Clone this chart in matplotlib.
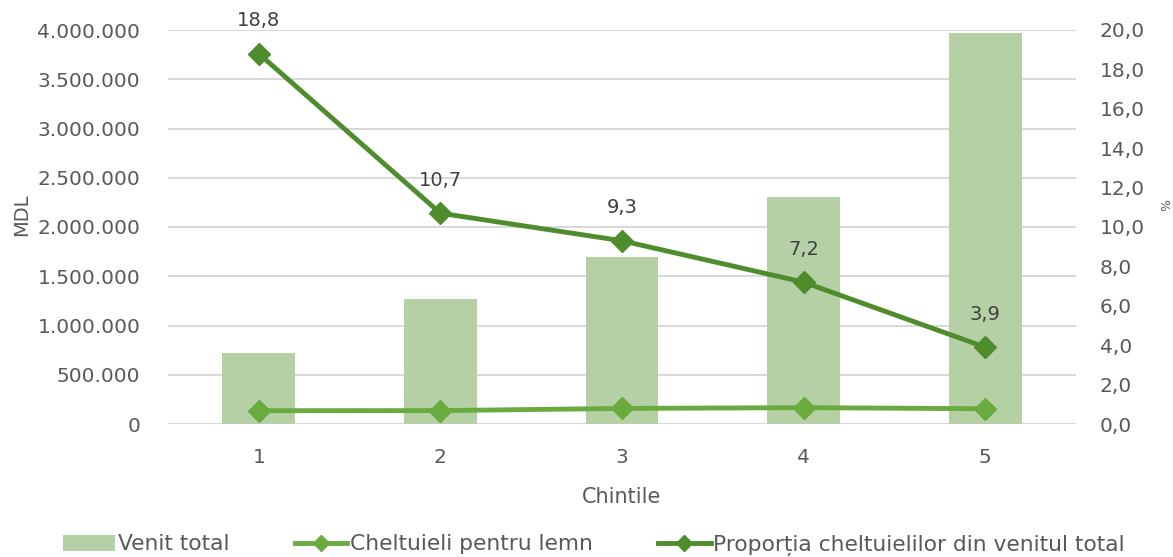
import matplotlib
matplotlib.use("Agg")
import matplotlib.pyplot as plt
from matplotlib.ticker import FuncFormatter, MultipleLocator
from matplotlib.patches import Patch
from matplotlib.lines import Line2D

# Data
quintiles = ["1", "2", "3", "4", "5"]
venit_total = [720000, 1270000, 1695000, 2305000, 3970000]
cheltuieli_lemn = [135000, 136000, 158000, 166000, 155000]
proportie = [18.8, 10.7, 9.3, 7.2, 3.9]
proportie_labels = ["18,8", "10,7", "9,3", "7,2", "3,9"]

c_bar = "#b5d0a5"
c_light = "#6aab40"
c_dark = "#4e8c2d"
c_text = "#595959"
c_grid = "#d9d9d9"

plt.rcParams["font.family"] = ["DejaVu Sans"]

fig = plt.figure(figsize=(11.73, 5.57), dpi=100)
ax = fig.add_axes([168 / 1173, 1 - 424 / 557, (1076 - 168) / 1173, (424 - 30) / 557])
ax2 = ax.twinx()

x = list(range(1, len(quintiles) + 1))

ax.bar(x, venit_total, width=0.4, color=c_bar, zorder=2)
ax.plot(x, cheltuieli_lemn, color=c_light, lw=3.5, marker="D", ms=11,
        markeredgecolor=c_light, zorder=3)

ax2.plot(x, proportie, color=c_dark, lw=3.5, marker="D", ms=11,
         markeredgecolor=c_dark, zorder=3)
for xi, v, lab in zip(x, proportie, proportie_labels):
    ax2.annotate(lab, (xi, v), xytext=(0, 17), textcoords="offset points",
                 ha="center", va="bottom", fontsize=14, color="#404040")

ax.set_xlim(0.5, 5.5)
ax.set_ylim(0, 4000000)
ax2.set_ylim(0, 20)
ax.yaxis.set_major_locator(MultipleLocator(500000))
ax2.yaxis.set_major_locator(MultipleLocator(2))


def thousands(v, pos):
    return f"{int(round(v)):,}".replace(",", ".")


ax.yaxis.set_major_formatter(FuncFormatter(thousands))
ax2.yaxis.set_major_formatter(FuncFormatter(lambda v, p: f"{v:.1f}".replace(".", ",")))

ax.set_xticks(x)
ax.set_xticklabels(quintiles, fontsize=14.5)

ax.grid(axis="y", color=c_grid, lw=1.5, zorder=0)
ax.set_axisbelow(True)

for a in (ax, ax2):
    for s in a.spines.values():
        s.set_visible(False)
    a.tick_params(length=0, colors=c_text)

ax.tick_params(axis="y", pad=20, labelsize=14.5)
ax2.tick_params(axis="y", pad=17, labelsize=14.5)
ax.tick_params(axis="x", pad=17)

ax.set_xlabel("Chintile", fontsize=15, color=c_text, labelpad=15)
ax.set_ylabel("MDL", fontsize=14, color=c_text)
ax.yaxis.set_label_coords((31 - 168) / 908, (424 - 215) / 394)
ax2.set_ylabel("%", fontsize=9, color=c_text, rotation=-90, va="center")
ax2.yaxis.set_label_coords((1163 - 168) / 908, (424 - 205) / 394)

handles = [
    Patch(facecolor=c_bar, edgecolor="none"),
    Line2D([0], [0], color=c_light, lw=3.5, marker="D", ms=8),
    Line2D([0], [0], color=c_dark, lw=3.5, marker="D", ms=8),
]
labels = ["Venit total", "Cheltuieli pentru lemn", "Proporția cheltuielilor din venitul total"]
fig.legend(handles, labels, loc="center", bbox_to_anchor=(594 / 1173, 1 - 545 / 557),
           ncol=3, frameon=False, labelcolor=c_text, fontsize=15.7,
           handlelength=2.4, handleheight=0.8, handletextpad=0.12, columnspacing=3.0,
           borderpad=0.2)

fig.savefig("out.png", dpi=100)
